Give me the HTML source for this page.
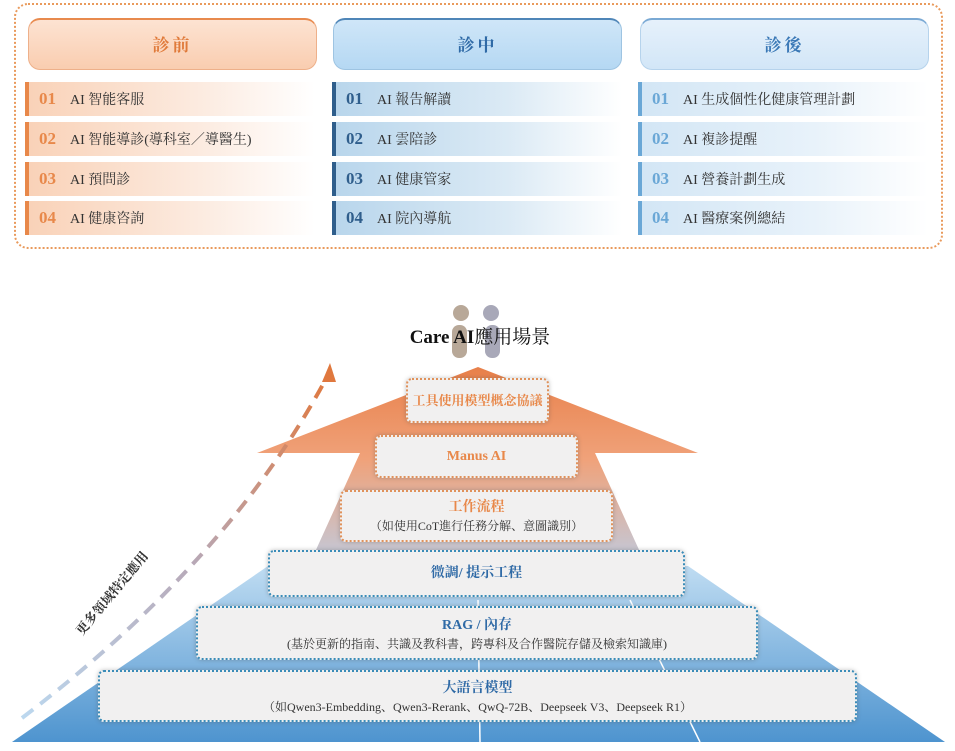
<!DOCTYPE html>
<html><head><meta charset="utf-8"><style>
*{margin:0;padding:0;box-sizing:border-box}
body{width:955px;height:751px;background:#fff;position:relative;overflow:hidden;font-family:"Liberation Serif","Noto Serif CJK SC","Noto Sans CJK TC",serif}
.a{position:absolute}
.panel{left:14px;top:3px;width:929px;height:246px;border:2px dotted #e99a5c;border-radius:14px}
.hd{top:18px;width:289px;height:52px;border-radius:12px;text-align:center;line-height:52px;font-size:17px;font-weight:bold;letter-spacing:3px}
.ho{background:linear-gradient(#fde3d2,#f9cdb0);border:1.5px solid #eeb08a;border-top:2px solid #e88a4e;color:#e07a3a}
.hb{background:linear-gradient(#cfe6f8,#b5d8f3);border:1.5px solid #9ec4e2;border-top:2px solid #4f86b8;color:#2f6aa6}
.hl{background:linear-gradient(#e6f1fb,#d2e6f7);border:1.5px solid #b6d3ec;border-top:2px solid #7aa9d4;color:#3a78b6}
.row{width:290px;height:34px;font-size:14px;line-height:34px;color:#333;padding-left:10px}
.row b{font-size:17px;margin-right:11px;display:inline-block;width:20px}
.ro{border-left:4px solid #e8884a;background:linear-gradient(90deg,#f9d2b8,#fcebe0 60%,rgba(255,255,255,0))}
.ro b{color:#e8884a}
.rb{border-left:4px solid #2f5e8c;background:linear-gradient(90deg,#b9d6ec,#dbeaf5 60%,rgba(255,255,255,0))}
.rb b{color:#2f5e8c}
.rl{border-left:4px solid #6aa7d6;background:linear-gradient(90deg,#d3e6f5,#e8f2fa 60%,rgba(255,255,255,0))}
.rl b{color:#6aa7d6}
.bx{background:#f1f0f0;border-radius:6px;text-align:center;box-shadow:0 0 4px rgba(80,80,80,.35);font-weight:bold}
.bo{border:2px dotted #e0915a;color:#e8884a}
.bbl{border:2px dotted #3a8cb8;color:#2f6aa6}
.sub{font-weight:normal;color:#333;font-size:12px}
</style></head><body>
<div class="a panel"></div>
<div class="a hd ho" style="left:28px">診前</div>
<div class="a hd hb" style="left:333px">診中</div>
<div class="a hd hl" style="left:640px">診後</div>

<div class="a row ro" style="left:25px;top:82px"><b>01</b>AI 智能客服</div>
<div class="a row ro" style="left:25px;top:122px"><b>02</b>AI 智能導診(導科室／導醫生)</div>
<div class="a row ro" style="left:25px;top:162px"><b>03</b>AI 預問診</div>
<div class="a row ro" style="left:25px;top:201px"><b>04</b>AI 健康咨詢</div>

<div class="a row rb" style="left:332px;top:82px"><b>01</b>AI 報告解讀</div>
<div class="a row rb" style="left:332px;top:122px"><b>02</b>AI 雲陪診</div>
<div class="a row rb" style="left:332px;top:162px"><b>03</b>AI 健康管家</div>
<div class="a row rb" style="left:332px;top:201px"><b>04</b>AI 院內導航</div>

<div class="a row rl" style="left:638px;top:82px"><b>01</b>AI 生成個性化健康管理計劃</div>
<div class="a row rl" style="left:638px;top:122px"><b>02</b>AI 複診提醒</div>
<div class="a row rl" style="left:638px;top:162px"><b>03</b>AI 營養計劃生成</div>
<div class="a row rl" style="left:638px;top:201px"><b>04</b>AI 醫療案例總結</div>

<svg class="a" style="left:0;top:0" width="955" height="751">
<defs>
<linearGradient id="bl" x1="0" y1="0" x2="0" y2="1"><stop offset="0" stop-color="#bfdcf2"/><stop offset="1" stop-color="#4e94cf"/></linearGradient>
<linearGradient id="or" x1="0" y1="0" x2="0" y2="1"><stop offset="0" stop-color="#e8804a"/><stop offset=".5" stop-color="#f0a27a"/><stop offset="1" stop-color="#c6c6d2"/></linearGradient>
<linearGradient id="dash" x1="0" y1="1" x2="1" y2="0"><stop offset="0" stop-color="#bcd8ef"/><stop offset=".5" stop-color="#b7a9b8"/><stop offset="1" stop-color="#e0783e"/></linearGradient>
</defs>
<polygon points="268,566 688,566 945,742 12,742" fill="url(#bl)"/>
<polygon points="478,367 698,453 595,453 640,552 315,552 360,453 257,453" fill="url(#or)"/>
<line x1="478" y1="600" x2="480" y2="742" stroke="#fff" stroke-width="1.5"/>
<line x1="630" y1="600" x2="700" y2="742" stroke="#fff" stroke-width="1.5"/>
<circle cx="461" cy="313" r="8" fill="#b8a898"/><circle cx="491" cy="313" r="8" fill="#a8a8b8"/>
<rect x="452" y="325" width="15" height="33" rx="7" fill="#b8a898"/><rect x="485" y="325" width="15" height="33" rx="7" fill="#a8a8b8"/>
<path d="M22,718 Q230,560 328,375" fill="none" stroke="url(#dash)" stroke-width="4" stroke-dasharray="14,9"/>
<polygon points="330,363 322,382 336,382" fill="#e0783e"/>
<text x="0" y="0" transform="translate(82,636) rotate(-50)" font-size="13" font-weight="bold" fill="#333" font-family="Liberation Serif,Noto Serif CJK SC,serif">更多領域特定應用</text>
</svg>
<div class="a" style="left:380px;top:322px;width:200px;text-align:center;font-size:19px;color:#111"><b>Care AI</b>應用場景</div>

<div class="a bx bo" style="left:406px;top:378px;width:143px;height:45px;line-height:41px;font-size:13px">工具使用模型概念協議</div>
<div class="a bx bo" style="left:375px;top:435px;width:203px;height:43px;line-height:39px;font-size:14px">Manus AI</div>
<div class="a bx bo" style="left:340px;top:490px;width:273px;height:52px;padding-top:7px;font-size:14px;line-height:18px">工作流程<br><span class="sub">（如使用CoT進行任務分解、意圖識別）</span></div>
<div class="a bx bbl" style="left:268px;top:550px;width:417px;height:47px;line-height:43px;font-size:14px">微調/ 提示工程</div>
<div class="a bx bbl" style="left:196px;top:606px;width:562px;height:54px;padding-top:9px;font-size:14px;line-height:18px">RAG / 內存<br><span class="sub">(基於更新的指南、共識及教科書，跨專科及合作醫院存儲及檢索知識庫)</span></div>
<div class="a bx bbl" style="left:98px;top:670px;width:759px;height:52px;padding-top:8px;font-size:14px;line-height:18px">大語言模型<br><span class="sub">（如Qwen3-Embedding、Qwen3-Rerank、QwQ-72B、Deepseek V3、Deepseek R1）</span></div>
</body></html>
